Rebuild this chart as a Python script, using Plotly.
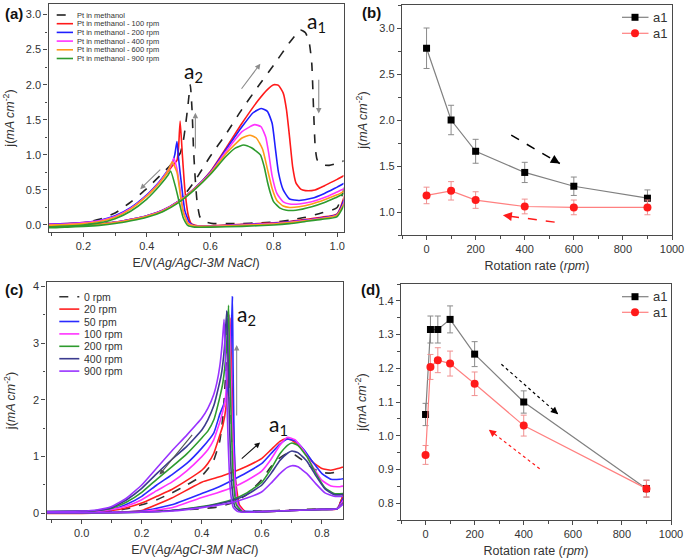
import plotly.graph_objects as go

W, H = 685, 560

# ---------------- Panel (a): CVs, Pt in methanol at several rotation rates ----------------
a_names = ["Pt in methanol", "Pt in methanol - 100 rpm", "Pt in methanol - 200 rpm",
           "Pt in methanol - 400 rpm", "Pt in methanol - 600 rpm", "Pt in methanol - 900 rpm"]
a_colors = ["#222222", "#ff1a1a", "#1f1fff", "#ff33ff", "#ff9a1a", "#2e9b2e"]
a_dash = ["dash", "solid", "solid", "solid", "solid", "solid"]

a0_E = [0.05, 0.1, 0.15, 0.2, 0.25, 0.3, 0.35, 0.4, 0.45, 0.5, 0.55, 0.6, 0.65, 0.7, 0.75, 0.8, 0.85,
        0.884, 0.9, 0.912, 0.92, 0.926, 0.931, 0.937, 0.95, 0.975, 1.0, 1.04,
        1.0, 0.95, 0.9, 0.85, 0.8, 0.75, 0.7, 0.65, 0.61, 0.58, 0.567, 0.558, 0.552, 0.547, 0.543,
        0.537, 0.53, 0.522, 0.515, 0.505, 0.49, 0.47, 0.45, 0.4, 0.35, 0.3, 0.25, 0.2, 0.15, 0.1, 0.05]
a0_j = [0.0, 0.0, 0.005, 0.01, 0.02, 0.04, 0.07, 0.12, 0.2, 0.33, 0.62, 0.98, 1.3, 1.65, 1.97, 2.28, 2.6,
        2.78, 2.74, 2.6, 2.3, 1.6, 1.1, 0.93, 0.86, 0.85, 0.88, 0.93,
        0.25, 0.17, 0.11, 0.07, 0.04, 0.03, 0.02, 0.02, 0.02, 0.05, 0.12, 0.35, 0.7, 1.1, 1.6,
        2.0, 1.72, 1.42, 1.2, 1.02, 0.93, 0.83, 0.74, 0.52, 0.33, 0.17, 0.08, 0.03, 0.01, 0.0, 0.0]

a100_E = [0.05, 0.1, 0.15, 0.2, 0.25, 0.3, 0.35, 0.4, 0.45, 0.5, 0.55, 0.6, 0.65, 0.7, 0.75, 0.78, 0.8,
          0.815, 0.83, 0.84, 0.85, 0.86, 0.87, 0.885, 0.9, 0.93, 0.96, 1.0, 1.04,
          1.0, 0.95, 0.9, 0.85, 0.8, 0.7, 0.6, 0.56, 0.54, 0.53, 0.52, 0.512, 0.505, 0.5, 0.495,
          0.48, 0.46, 0.44, 0.42, 0.4, 0.35, 0.3, 0.25, 0.2, 0.15, 0.1, 0.05]
a100_j = [-0.01, -0.01, -0.005, 0.0, 0.015, 0.04, 0.08, 0.13, 0.21, 0.34, 0.52, 0.76, 1.1, 1.45, 1.77, 1.93, 2.0,
          1.99, 1.88, 1.65, 1.25, 0.82, 0.6, 0.51, 0.49, 0.5, 0.56, 0.65, 0.74,
          0.16, 0.11, 0.08, 0.05, 0.03, 0.01, -0.01, -0.01, 0.02, 0.15, 0.5, 1.0, 1.48, 1.1, 0.92,
          0.84, 0.72, 0.61, 0.51, 0.42, 0.24, 0.12, 0.06, 0.035, 0.02, 0.015, 0.01]

a200_E = [0.05, 0.1, 0.15, 0.2, 0.25, 0.3, 0.35, 0.4, 0.45, 0.5, 0.55, 0.6, 0.65, 0.7, 0.735, 0.76, 0.78,
          0.795, 0.805, 0.815, 0.83, 0.85, 0.88, 0.92, 0.96, 1.0, 1.04,
          1.0, 0.95, 0.9, 0.85, 0.8, 0.7, 0.6, 0.55, 0.535, 0.52, 0.51, 0.5, 0.495, 0.488,
          0.48, 0.46, 0.44, 0.42, 0.4, 0.35, 0.3, 0.25, 0.2, 0.15, 0.1, 0.05]
a200_j = [-0.01, -0.012, -0.006, 0.0, 0.015, 0.04, 0.08, 0.13, 0.21, 0.34, 0.52, 0.75, 1.08, 1.4, 1.6, 1.66, 1.62,
          1.45, 1.1, 0.75, 0.5, 0.37, 0.35, 0.38, 0.45, 0.54, 0.63,
          0.15, 0.1, 0.07, 0.045, 0.025, 0.005, -0.015, -0.01, 0.03, 0.2, 0.55, 0.95, 1.19, 1.0,
          0.88, 0.74, 0.62, 0.52, 0.43, 0.25, 0.13, 0.065, 0.035, 0.02, 0.015, 0.01]

a400_E = [0.05, 0.1, 0.15, 0.2, 0.25, 0.3, 0.35, 0.4, 0.45, 0.5, 0.55, 0.6, 0.65, 0.7, 0.74, 0.76, 0.775,
          0.785, 0.795, 0.81, 0.83, 0.85, 0.88, 0.92, 0.96, 1.0, 1.04,
          1.0, 0.95, 0.9, 0.85, 0.8, 0.7, 0.6, 0.55, 0.53, 0.515, 0.505, 0.495, 0.485, 0.478,
          0.46, 0.44, 0.42, 0.4, 0.35, 0.3, 0.25, 0.2, 0.15, 0.1, 0.05]
a400_j = [-0.015, -0.015, -0.01, -0.003, 0.012, 0.037, 0.077, 0.127, 0.205, 0.335, 0.515, 0.74, 1.05, 1.33, 1.43, 1.4, 1.25,
          1.0, 0.7, 0.45, 0.33, 0.3, 0.3, 0.33, 0.39, 0.47, 0.55,
          0.14, 0.095, 0.065, 0.04, 0.02, 0.0, -0.02, -0.015, 0.03, 0.2, 0.5, 0.8, 0.95, 0.86,
          0.73, 0.61, 0.51, 0.42, 0.24, 0.12, 0.06, 0.03, 0.015, 0.01, 0.005]

a600_E = [0.05, 0.1, 0.15, 0.2, 0.25, 0.3, 0.35, 0.4, 0.45, 0.5, 0.55, 0.6, 0.65, 0.7, 0.725, 0.745, 0.765,
          0.78, 0.795, 0.81, 0.83, 0.85, 0.88, 0.92, 0.96, 1.0, 1.04,
          1.0, 0.95, 0.9, 0.85, 0.8, 0.7, 0.6, 0.55, 0.53, 0.515, 0.505, 0.495, 0.48, 0.472,
          0.46, 0.44, 0.42, 0.4, 0.35, 0.3, 0.25, 0.2, 0.15, 0.1, 0.05]
a600_j = [-0.02, -0.02, -0.013, -0.006, 0.01, 0.035, 0.075, 0.125, 0.2, 0.33, 0.51, 0.73, 1.02, 1.24, 1.28, 1.24, 1.08,
          0.8, 0.52, 0.35, 0.27, 0.25, 0.26, 0.3, 0.36, 0.43, 0.51,
          0.14, 0.09, 0.06, 0.035, 0.015, -0.005, -0.02, -0.015, 0.02, 0.18, 0.45, 0.75, 0.9, 0.82,
          0.72, 0.6, 0.5, 0.41, 0.23, 0.11, 0.05, 0.02, 0.005, 0.0, -0.005]

a900_E = [0.05, 0.1, 0.15, 0.2, 0.25, 0.3, 0.35, 0.4, 0.45, 0.5, 0.55, 0.6, 0.65, 0.68, 0.705, 0.73, 0.758,
          0.77, 0.78, 0.79, 0.8, 0.82, 0.84, 0.87, 0.92, 0.96, 1.0, 1.04,
          1.0, 0.95, 0.9, 0.85, 0.8, 0.7, 0.6, 0.55, 0.53, 0.515, 0.505, 0.49, 0.475, 0.468,
          0.46, 0.44, 0.42, 0.4, 0.35, 0.3, 0.25, 0.2, 0.15, 0.1, 0.05]
a900_j = [-0.04, -0.04, -0.03, -0.02, -0.005, 0.02, 0.06, 0.11, 0.19, 0.32, 0.5, 0.72, 0.98, 1.1, 1.14, 1.1, 1.0,
          0.83, 0.62, 0.45, 0.33, 0.24, 0.21, 0.21, 0.26, 0.32, 0.4, 0.48,
          0.12, 0.08, 0.05, 0.02, 0.0, -0.02, -0.03, -0.03, -0.01, 0.1, 0.27, 0.55, 0.77, 0.72,
          0.67, 0.56, 0.46, 0.37, 0.2, 0.09, 0.03, 0.0, -0.015, -0.025, -0.03]

a_E = [a0_E, a100_E, a200_E, a400_E, a600_E, a900_E]
a_j = [a0_j, a100_j, a200_j, a400_j, a600_j, a900_j]

# ---------------- Panel (b): a1 peak current vs rotation rate ----------------
b_rpm = [0, 100, 200, 400, 600, 900]
b_black = [2.78, 2.00, 1.66, 1.43, 1.28, 1.15]
b_black_err = [0.22, 0.16, 0.13, 0.11, 0.10, 0.09]
b_red = [1.18, 1.23, 1.13, 1.06, 1.05, 1.05]
b_red_err = [0.09, 0.10, 0.09, 0.08, 0.08, 0.08]

# ---------------- Panel (c): CVs at several rotation rates ----------------
c_names = ["0 rpm", "20 rpm", "50 rpm", "100 rpm", "200 rpm", "400 rpm", "900 rpm"]
c_colors = ["#333333", "#ff2020", "#2a2aff", "#ff33ff", "#2e9b2e", "#3b3b8f", "#9933ff"]
c_dash = ["dash", "solid", "solid", "solid", "solid", "solid", "solid"]

c0_E = [-0.15, 0.0, 0.1, 0.2, 0.3, 0.4, 0.45, 0.5, 0.55, 0.6, 0.63, 0.66, 0.685, 0.71, 0.74, 0.77, 0.8, 0.83, 0.86, 0.9,
        0.85, 0.8, 0.7, 0.6, 0.55, 0.535, 0.52, 0.507, 0.497, 0.491, 0.487,
        0.48, 0.47, 0.46, 0.44, 0.42, 0.4, 0.35, 0.3, 0.25, 0.2, 0.15, 0.1, 0.0, -0.15]
c0_j = [0.01, 0.01, 0.02, 0.03, 0.05, 0.08, 0.11, 0.18, 0.33, 0.6, 0.82, 0.98, 1.06, 1.03, 0.92, 0.79, 0.72, 0.71, 0.74, 0.77,
        0.09, 0.08, 0.06, 0.04, 0.04, 0.05, 0.15, 0.6, 1.8, 2.8, 3.55,
        2.5, 1.7, 1.28, 0.94, 0.78, 0.66, 0.5, 0.36, 0.24, 0.15, 0.08, 0.04, 0.02, 0.01]

c20_E = [-0.15, 0.0, 0.1, 0.2, 0.3, 0.4, 0.45, 0.5, 0.55, 0.6, 0.63, 0.66, 0.68, 0.7, 0.74, 0.77, 0.8, 0.83, 0.86, 0.9,
         0.85, 0.8, 0.7, 0.6, 0.545, 0.525, 0.512, 0.503, 0.498, 0.494,
         0.488, 0.48, 0.47, 0.46, 0.44, 0.42, 0.4, 0.35, 0.3, 0.25, 0.2, 0.15, 0.1, 0.0, -0.15]
c20_j = [0.0, 0.0, 0.01, 0.05, 0.27, 0.55, 0.63, 0.72, 0.83, 0.97, 1.12, 1.27, 1.315, 1.29, 1.1, 0.9, 0.79, 0.76, 0.8, 0.85,
         0.08, 0.07, 0.05, 0.03, 0.03, 0.15, 0.6, 1.8, 2.8, 3.45,
         2.5, 1.85, 1.55, 1.38, 1.06, 0.88, 0.76, 0.58, 0.42, 0.3, 0.18, 0.1, 0.05, 0.02, 0.01]

c50_E = [-0.15, 0.0, 0.1, 0.2, 0.3, 0.4, 0.45, 0.5, 0.55, 0.6, 0.63, 0.66, 0.685, 0.71, 0.74, 0.77, 0.8, 0.83, 0.86, 0.9,
         0.85, 0.8, 0.7, 0.6, 0.53, 0.515, 0.508, 0.504, 0.502,
         0.497, 0.49, 0.475, 0.46, 0.44, 0.4, 0.35, 0.3, 0.25, 0.2, 0.15, 0.1, 0.0, -0.15]
c50_j = [0.01, 0.01, 0.02, 0.04, 0.15, 0.35, 0.45, 0.58, 0.72, 0.88, 1.05, 1.22, 1.31, 1.28, 1.12, 0.9, 0.7, 0.6, 0.6, 0.63,
         0.08, 0.07, 0.05, 0.03, 0.05, 0.3, 1.2, 2.6, 3.82,
         3.0, 2.3, 1.95, 1.75, 1.42, 1.15, 0.88, 0.68, 0.5, 0.3, 0.16, 0.07, 0.03, 0.02]

c100_E = [-0.15, 0.0, 0.1, 0.2, 0.3, 0.4, 0.45, 0.5, 0.55, 0.6, 0.63, 0.66, 0.685, 0.71, 0.74, 0.77, 0.8, 0.83, 0.86, 0.9,
          0.85, 0.8, 0.7, 0.6, 0.54, 0.52, 0.51, 0.5, 0.495, 0.492,
          0.486, 0.478, 0.465, 0.45, 0.44, 0.42, 0.4, 0.35, 0.3, 0.25, 0.2, 0.15, 0.1, 0.0, -0.15]
c100_j = [0.01, 0.01, 0.015, 0.03, 0.1, 0.28, 0.36, 0.45, 0.58, 0.75, 0.95, 1.2, 1.34, 1.3, 1.1, 0.82, 0.58, 0.48, 0.47, 0.5,
          0.08, 0.07, 0.05, 0.03, 0.03, 0.15, 0.6, 1.8, 2.8, 3.5,
          2.6, 2.0, 1.7, 1.45, 1.3, 1.12, 1.0, 0.75, 0.55, 0.4, 0.24, 0.13, 0.07, 0.03, 0.02]

c200_E = [-0.15, 0.0, 0.1, 0.2, 0.3, 0.4, 0.45, 0.5, 0.55, 0.6, 0.63, 0.66, 0.685, 0.7, 0.72, 0.75, 0.78, 0.81, 0.84, 0.87, 0.9,
          0.85, 0.8, 0.7, 0.6, 0.535, 0.515, 0.505, 0.497, 0.492, 0.489,
          0.482, 0.47, 0.46, 0.44, 0.42, 0.4, 0.35, 0.3, 0.25, 0.2, 0.15, 0.1, 0.05, 0.0, -0.15]
c200_j = [0.01, 0.01, 0.01, 0.02, 0.05, 0.12, 0.17, 0.24, 0.36, 0.55, 0.78, 1.05, 1.2, 1.24, 1.2, 1.0, 0.7, 0.45, 0.35, 0.35, 0.37,
          0.08, 0.07, 0.05, 0.03, 0.03, 0.15, 0.6, 1.8, 2.9, 3.67,
          2.9, 2.3, 2.05, 1.65, 1.45, 1.33, 1.05, 0.82, 0.6, 0.37, 0.2, 0.09, 0.05, 0.04, 0.03]

c400_E = [-0.15, 0.0, 0.1, 0.2, 0.3, 0.4, 0.45, 0.5, 0.55, 0.6, 0.63, 0.66, 0.685, 0.7, 0.72, 0.75, 0.78, 0.81, 0.84, 0.87, 0.9,
          0.85, 0.8, 0.7, 0.6, 0.53, 0.51, 0.5, 0.492, 0.487, 0.483,
          0.475, 0.465, 0.45, 0.44, 0.42, 0.4, 0.35, 0.3, 0.25, 0.2, 0.15, 0.1, 0.05, 0.0, -0.15]
c400_j = [0.01, 0.01, 0.01, 0.02, 0.05, 0.11, 0.16, 0.22, 0.33, 0.5, 0.7, 0.93, 1.06, 1.1, 1.07, 0.92, 0.66, 0.43, 0.33, 0.33, 0.35,
          0.08, 0.07, 0.05, 0.03, 0.03, 0.12, 0.5, 1.6, 2.8, 3.57,
          2.9, 2.45, 2.1, 1.9, 1.65, 1.47, 1.18, 0.95, 0.7, 0.44, 0.24, 0.1, 0.05, 0.04, 0.03]

c900_E = [-0.15, 0.0, 0.1, 0.2, 0.3, 0.4, 0.45, 0.5, 0.55, 0.6, 0.63, 0.66, 0.685, 0.7, 0.72, 0.75, 0.78, 0.81, 0.84, 0.87, 0.9,
          0.85, 0.8, 0.7, 0.6, 0.55, 0.52, 0.505, 0.495, 0.488, 0.482, 0.477, 0.474,
          0.468, 0.46, 0.45, 0.44, 0.42, 0.4, 0.35, 0.3, 0.25, 0.2, 0.15, 0.1, 0.05, 0.0, -0.15]
c900_j = [0.01, 0.01, 0.01, 0.02, 0.04, 0.1, 0.14, 0.19, 0.27, 0.38, 0.53, 0.7, 0.81, 0.84, 0.82, 0.7, 0.52, 0.36, 0.3, 0.3, 0.32,
          0.08, 0.07, 0.05, 0.03, 0.02, 0.03, 0.1, 0.4, 1.2, 2.3, 3.0, 3.42,
          3.0, 2.6, 2.3, 2.1, 1.85, 1.68, 1.38, 1.1, 0.8, 0.5, 0.27, 0.12, 0.06, 0.04, 0.03]

c_E = [c0_E, c20_E, c50_E, c100_E, c200_E, c400_E, c900_E]
c_j = [c0_j, c20_j, c50_j, c100_j, c200_j, c400_j, c900_j]

# ---------------- Panel (d): a1 peak current vs rotation rate ----------------
d_rpm = [0, 20, 50, 100, 200, 400, 900]
d_black = [1.063, 1.315, 1.315, 1.345, 1.242, 1.100, 0.843]
d_black_err = [0.033, 0.04, 0.04, 0.04, 0.037, 0.033, 0.025]
d_red = [0.943, 1.204, 1.224, 1.214, 1.154, 1.030, 0.843]
d_red_err = [0.028, 0.037, 0.037, 0.037, 0.035, 0.031, 0.025]

series_names = ["a1", "a1"]

# ---------------------------------------------------------------------------------
FONT = "Arial, Liberation Sans, sans-serif"
AX = "#4a4a4a"
TXT = "#333333"


def P(xp, yp):
    return xp / W, 1 - yp / H


fig = go.Figure()

for E, j, col, dsh, nm in zip(a_E, a_j, a_colors, a_dash, a_names):
    fig.add_trace(go.Scatter(x=E, y=j, mode="lines", name=nm, xaxis="x", yaxis="y",
                             line=dict(color=col, width=1.6, dash=dsh, shape="spline", smoothing=0.5)))

fig.add_trace(go.Scatter(x=b_rpm, y=b_black, mode="lines+markers", xaxis="x2", yaxis="y2",
                         line=dict(color="#808080", width=1.2),
                         marker=dict(symbol="square", size=7, color="#000000"),
                         error_y=dict(type="data", array=b_black_err, color="#8a8a8a", thickness=1, width=3)))
fig.add_trace(go.Scatter(x=b_rpm, y=b_red, mode="lines+markers", xaxis="x2", yaxis="y2",
                         line=dict(color="#ff8080", width=1.2),
                         marker=dict(symbol="circle", size=8, color="#ff1a1a"),
                         error_y=dict(type="data", array=b_red_err, color="#f09090", thickness=1, width=3)))

for E, j, col, dsh, nm in zip(c_E, c_j, c_colors, c_dash, c_names):
    fig.add_trace(go.Scatter(x=E, y=j, mode="lines", name=nm, xaxis="x3", yaxis="y3",
                             line=dict(color=col, width=1.6, dash=dsh, shape="spline", smoothing=0.4)))

fig.add_trace(go.Scatter(x=d_rpm, y=d_black, mode="lines+markers", xaxis="x4", yaxis="y4",
                         line=dict(color="#808080", width=1.2),
                         marker=dict(symbol="square", size=7, color="#000000"),
                         error_y=dict(type="data", array=d_black_err, color="#8a8a8a", thickness=1, width=3)))
fig.add_trace(go.Scatter(x=d_rpm, y=d_red, mode="lines+markers", xaxis="x4", yaxis="y4",
                         line=dict(color="#ff8080", width=1.2),
                         marker=dict(symbol="circle", size=8, color="#ff1a1a"),
                         error_y=dict(type="data", array=d_red_err, color="#f09090", thickness=1, width=3)))


def axis(domain, rng, dtick, minor_dtick, fmt, title, anchor, standoff):
    return dict(domain=domain, range=rng, dtick=dtick, tick0=0, tickformat=fmt, automargin=False,
                showline=True, mirror=True, linecolor=AX, linewidth=1.3,
                ticks="outside", ticklen=4, tickwidth=1, tickcolor=AX,
                minor=dict(dtick=minor_dtick, ticks="outside", ticklen=2.5, tickcolor=AX, tickwidth=1),
                showgrid=False, zeroline=False, anchor=anchor,
                tickfont=dict(family=FONT, size=11, color=TXT),
                title=dict(text=title, font=dict(family=FONT, size=12.5, color=TXT), standoff=standoff))


JT = "j(<i>mA cm</i><sup>-2</sup>)"
ET = "E/V(<i>Ag/AgCl-3M NaCl</i>)"
RT = "Rotation rate (<i>rpm</i>)"

fig.update_layout(
    template="none",
    width=W, height=H, margin=dict(l=0, r=0, t=0, b=0, pad=0),
    paper_bgcolor="white", plot_bgcolor="white", showlegend=False,
    xaxis=axis([48.5 / W, 343.5 / W], [0.09, 1.02], 0.2, 0.1, ".1f", ET, "y", 6),
    yaxis=axis([1 - 232 / H, 1 - 4 / H], [-0.1, 3.15], 0.5, 0.25, ".1f", JT, "x", 8),
    xaxis2=axis([402 / W, 672 / W], [-100, 1000], 200, 100, "d", RT, "y2", 6),
    yaxis2=axis([1 - 235 / H, 1 - 5 / H], [0.75, 3.25], 0.5, 0.25, ".1f", JT, "x2", 8),
    xaxis3=axis([46.5 / W, 343 / W], [-0.117, 0.87], 0.2, 0.1, ".1f", ET, "y3", 6),
    yaxis3=axis([1 - 519 / H, 1 - 282 / H], [-0.1, 4.08], 1, 0.5, "d", JT, "x3", 14),
    xaxis4=axis([401 / W, 671 / W], [-100, 1000], 200, 100, "d", RT, "y4", 6),
    yaxis4=axis([1 - 520 / H, 1 - 284 / H], [0.75, 1.45], 0.1, 0.05, ".1f", JT, "x4", 8),
)

shapes = []
ann = []

# panel labels
for lab, (xp, yp) in zip(["(a)", "(b)", "(c)", "(d)"], [(14, 13), (371, 12), (14, 289), (370, 289)]):
    px, py = P(xp, yp)
    ann.append(dict(x=px, y=py, xref="paper", yref="paper", text="<b>%s</b>" % lab, showarrow=False,
                    xanchor="center", yanchor="middle",
                    font=dict(family=FONT, size=15, color="#111111")))

# custom legend (a)
for i, (nm, col, dsh) in enumerate(zip(a_names, a_colors, a_dash)):
    yp = 15 + i * 8.7
    x0, y0 = P(56.7, yp)
    x1, _ = P(73.0, yp)
    shapes.append(dict(type="line", xref="paper", yref="paper", x0=x0, x1=x1, y0=y0, y1=y0,
                       line=dict(color=col, width=1.6, dash=dsh)))
    tx, _ = P(75.0, yp)
    ann.append(dict(x=tx, y=y0, xref="paper", yref="paper", text=nm, showarrow=False, xanchor="left",
                    yanchor="middle", font=dict(family=FONT, size=7.5, color=TXT)))

# custom legend (c)
for i, (nm, col, dsh) in enumerate(zip(c_names, c_colors, c_dash)):
    yp = 296.7 + i * 12.4
    x0, y0 = P(59.3, yp)
    x1, _ = P(79.3, yp)
    shapes.append(dict(type="line", xref="paper", yref="paper", x0=x0, x1=x1, y0=y0, y1=y0,
                       line=dict(color=col, width=1.6, dash=dsh)))
    tx, _ = P(81.5, yp)
    ann.append(dict(x=tx, y=y0, xref="paper", yref="paper", text=nm, showarrow=False, xanchor="left",
                    yanchor="middle", font=dict(family=FONT, size=10.5, color=TXT)))

# custom legends (b), (d)
for rows in [(17.3, 33.3), (296.7, 312.3)]:
    for k, yp in enumerate(rows):
        x0, y0 = P(622, yp)
        x1, _ = P(648.5, yp)
        lc = ["#808080", "#ff8080"][k]
        shapes.append(dict(type="line", xref="paper", yref="paper", x0=x0, x1=x1, y0=y0, y1=y0,
                           line=dict(color=lc, width=1.2)))
        if k == 0:
            mx0, my0 = P(631.5, yp + 3.5)
            mx1, my1 = P(638.5, yp - 3.5)
            shapes.append(dict(type="rect", xref="paper", yref="paper", x0=mx0, x1=mx1, y0=my0, y1=my1,
                               fillcolor="#000000", line=dict(width=0)))
        else:
            mx0, my0 = P(631, yp + 4)
            mx1, my1 = P(639, yp - 4)
            shapes.append(dict(type="circle", xref="paper", yref="paper", x0=mx0, x1=mx1, y0=my0, y1=my1,
                               fillcolor="#ff1a1a", line=dict(width=0)))
        tx, _ = P(651, yp)
        ann.append(dict(x=tx, y=y0, xref="paper", yref="paper", text=series_names[k], showarrow=False,
                        xanchor="left", yanchor="middle", font=dict(family=FONT, size=13, color=TXT)))


def arrow(xr, yr, tail, head, color, width=1, headstyle=2, size=1.0):
    ann.append(dict(x=head[0], y=head[1], ax=tail[0], ay=tail[1], xref=xr, yref=yr, axref=xr, ayref=yr,
                    text="", showarrow=True, arrowhead=headstyle, arrowsize=size, arrowwidth=width,
                    arrowcolor=color))


def dashed_arrow(xr, yr, tail, head, color, dash, width=1.5):
    shapes.append(dict(type="line", xref=xr, yref=yr, x0=tail[0], y0=tail[1], x1=head[0], y1=head[1],
                       line=dict(color=color, width=width, dash=dash)))
    t2 = (head[0] - 0.1 * (head[0] - tail[0]), head[1] - 0.1 * (head[1] - tail[1]))
    arrow(xr, yr, t2, head, color, width=width, headstyle=2, size=1.2)


# panel (a) arrows and labels
arrow("x", "y", (0.447, 0.81), (0.379, 0.51), "#8c8c8c", 1.1)
arrow("x", "y", (0.695, 1.92), (0.758, 2.3), "#8c8c8c", 1.1)
arrow("x", "y", (0.553, 1.07), (0.553, 1.6), "#8c8c8c", 1.1)
arrow("x", "y", (0.942, 2.09), (0.942, 1.59), "#8c8c8c", 1.1)
ann.append(dict(x=0.935, y=2.9, xref="x", yref="y", text="a<sub>1</sub>", showarrow=False,
                font=dict(family="Lato, Open Sans, sans-serif", size=21, color="#111111")))
ann.append(dict(x=0.548, y=2.18, xref="x", yref="y", text="a<sub>2</sub>", showarrow=False,
                font=dict(family="Lato, Open Sans, sans-serif", size=21, color="#111111")))

# panel (b) arrows
dashed_arrow("x2", "y2", (345, 1.835), (543, 1.527), "#000000", "dash")
dashed_arrow("x2", "y2", (522, 0.89), (311, 0.964), "#ff1a1a", "dash")

# panel (c) arrows and labels
arrow("x3", "y3", (0.372, 1.41), (0.259, 0.68), "#555555", 1.1)
arrow("x3", "y3", (0.528, 0.94), (0.594, 1.25), "#111111", 1.1)
arrow("x3", "y3", (0.516, 1.7), (0.516, 2.97), "#8c8c8c", 1.1)
ann.append(dict(x=0.55, y=3.5, xref="x3", yref="y3", text="a<sub>2</sub>", showarrow=False,
                font=dict(family="Lato, Open Sans, sans-serif", size=21, color="#111111")))
ann.append(dict(x=0.655, y=1.55, xref="x3", yref="y3", text="a<sub>1</sub>", showarrow=False,
                font=dict(family="Lato, Open Sans, sans-serif", size=21, color="#111111")))

# panel (d) arrows
dashed_arrow("x4", "y4", (309, 1.212), (540, 1.064), "#000000", "dot", 1.2)
dashed_arrow("x4", "y4", (465, 0.902), (258, 1.018), "#ff1a1a", "dot", 1.2)

fig.update_layout(shapes=shapes, annotations=ann)
fig.write_html("out.html", config={"displayModeBar": False},
               post_script="document.body.style.margin='0';document.body.style.overflow='hidden';")
